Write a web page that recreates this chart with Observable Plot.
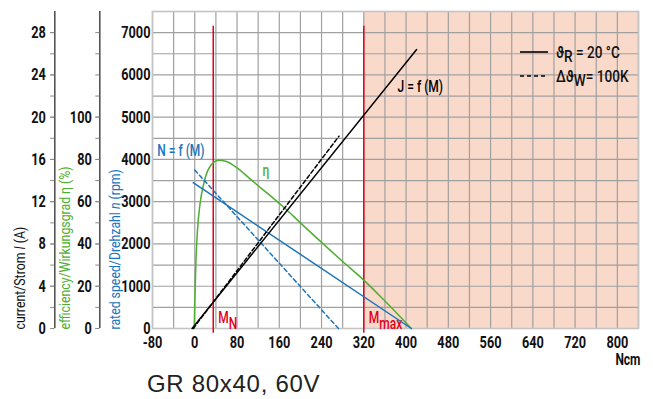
<!DOCTYPE html>
<html><head><meta charset="utf-8">
<script src="https://cdn.jsdelivr.net/npm/d3@7"></script>
<script src="https://cdn.jsdelivr.net/npm/@observablehq/plot@0.6"></script>
<style>
body{margin:0;background:#fff;}
#wrap{position:relative;width:653px;height:399px;overflow:hidden;}
#title{position:absolute;left:147px;top:372px;font:24px "Liberation Sans",Arial,sans-serif;line-height:24px;letter-spacing:0.7px;color:#222;white-space:nowrap;}
</style></head><body>
<div id="wrap"><div id="title">GR 80x40, 60V</div></div>
<script>
// ---- data ----
const torqueTicks = [-80, 0, 80, 160, 240, 320, 400, 480, 560, 640, 720, 800];
const speedTicks = [0, 1000, 2000, 3000, 4000, 5000, 6000, 7000];
const currentTicks = [0, 4, 8, 12, 16, 20, 24, 28];
const efficiencyTicks = [0, 20, 40, 60, 80, 100];

// speed n = f(M) (rpm)
const speedTorque = [-3, 410];
const speedRpm = [3450, 0];
const speedHotTorque = [0, 272];
const speedHotRpm = [3750, 0];

// current J = f(M) (A)
const currentTorque = [-5, 420];
const currentAmp = [0, 26.4];
const currentHotTorque = [-3, 273];
const currentHotAmp = [0, 18.2];

// efficiency eta = f(M) (%)
const effTorque = [-1, 0, 2, 5, 10, 17, 28, 45, 60, 80, 107, 130, 154, 170, 200, 242, 280, 320, 360, 410];
const effPct =    [0, 12, 30, 46, 59, 68.5, 76.3, 79.6, 79, 76, 70.3, 65.5, 60.5, 57, 50, 40.3, 31.7, 22.9, 13, 0];

// rated / max torque markers
const markerTorque = [35, 320];
const markerNames = ["M_{N}", "M_{max}"];
const overloadStart = 320;
const torqueMax = 840;
const speedMax = 7500;

// annotation anchors (data units)
const annotations = [
  {x: -71, y: 4210, text: "N = f (M)", key: "blue"},
  {x: 128, y: 3720, text: "η", key: "green"},
  {x: 384, y: 5720, text: "J = f (M)", key: "black"}
];

// axis conversions: 4 A and 20 % per 1000 rpm
const rpmPerAmp = 250;
const rpmPerPct = 50;

// ---- styles ----
const COL = {blue: "#1b75bc", green: "#4fae32", red: "#e3001b", black: "#000", shade: "#f9d9c9", grid: "#a0a0a0"};
const FONT = 'Roboto,"DejaVu Sans Condensed",sans-serif';

const zipXY = (xs, ys, f = 1) => xs.map((x, i) => ({x, y: ys[i] * f}));
const speedData = zipXY(speedTorque, speedRpm);
const speedHotData = zipXY(speedHotTorque, speedHotRpm);
const currentData = zipXY(currentTorque, currentAmp, rpmPerAmp);
const currentHotData = zipXY(currentHotTorque, currentHotAmp, rpmPerAmp);
const effData = zipXY(effTorque, effPct, rpmPerPct);
const markers = markerTorque.map((x, i) => ({x, name: markerNames[i]}));

const plot = Plot.plot({
  width: 653, height: 399,
  marginLeft: 152, marginRight: 15, marginTop: 11, marginBottom: 71,
  x: {domain: [-80, torqueMax], label: null},
  y: {domain: [0, speedMax], label: null},
  style: {fontFamily: FONT, fontSize: "17px", fontWeight: "bold", color: "#111", background: "transparent", overflow: "visible"},
  marks: [
    Plot.rect([overloadStart], {x1: d => d, x2: () => torqueMax, y1: () => 0, y2: () => speedMax, fill: COL.shade}),
    Plot.gridX(d3.range(-80, torqueMax + 1, 40), {stroke: COL.grid, strokeOpacity: 1, strokeWidth: 1.2}),
    Plot.gridY(d3.range(0, speedMax + 1, 500), {stroke: COL.grid, strokeOpacity: 1, strokeWidth: 1.2}),
    Plot.frame({stroke: "#c4c4c4", strokeWidth: 1.6}),

    // bottom axis
    Plot.axisX(torqueTicks, {tickSize: 0, tickPadding: 7, tickFormat: d => String(d)}),
    Plot.text(["Ncm"], {frameAnchor: "bottom-right", dx: 2, dy: 31, textAnchor: "end", lineAnchor: "middle", fontSize: 16}),

    // speed axis
    Plot.axisY(speedTicks, {tickSize: 0, tickPadding: 2, tickFormat: d => String(d)}),

    // efficiency axis
    Plot.ruleX([-80], {dx: -52.7, stroke: "#555", strokeWidth: 1.6}),
    Plot.axisY(d3.range(0, 7001, 500), {anchor: "left", dx: -52.7, tickSize: 4, tickFormat: () => "", stroke: "#888"}),
    Plot.axisY(efficiencyTicks.map(v => v * rpmPerPct), {anchor: "left", dx: -52.7, tickSize: 4, tickPadding: 4, stroke: "#888", tickFormat: d => String(d / rpmPerPct)}),

    // current axis
    Plot.ruleX([-80], {dx: -97.7, stroke: "#555", strokeWidth: 1.6}),
    Plot.axisY(d3.range(0, 7001, 500), {anchor: "left", dx: -97.7, tickSize: 4, tickFormat: () => "", stroke: "#888"}),
    Plot.axisY(currentTicks.map(v => v * rpmPerAmp), {anchor: "left", dx: -97.7, tickSize: 4, tickPadding: 5, stroke: "#888", tickFormat: d => String(d / rpmPerAmp)}),

    // axis titles
    Plot.text(["current/Strom *I* (A)"], {frameAnchor: "bottom-left", rotate: -90, textAnchor: "start", lineAnchor: "middle", dx: -132, dy: 1, fontSize: 15, fontWeight: "normal", fill: "#111", className: "ttl"}),
    Plot.text(["efficiency/Wirkungsgrad η (%)"], {frameAnchor: "bottom-left", rotate: -90, textAnchor: "start", lineAnchor: "middle", dx: -87, dy: 1, fontSize: 15, fontWeight: "normal", fill: COL.green, className: "ttl"}),
    Plot.text(["rated speed/Drehzahl *n* (rpm)"], {frameAnchor: "bottom-left", rotate: -90, textAnchor: "start", lineAnchor: "middle", dx: -37, dy: 1, fontSize: 15, fontWeight: "normal", fill: COL.blue, className: "ttl"}),

    // marker lines
    Plot.ruleX(markers, {x: "x", y1: () => -110, y2: () => 7150, stroke: COL.red, strokeWidth: 1.5}),
    Plot.text(markers, {x: "x", y: () => 262, text: "name", dx: 5, textAnchor: "start", lineAnchor: "middle", fill: COL.red, fontWeight: 500, fontSize: 16}),

    // curves
    Plot.line(effData, {x: "x", y: "y", stroke: COL.green, strokeWidth: 1.5, curve: "monotone-x"}),
    Plot.line(speedHotData, {x: "x", y: "y", stroke: COL.blue, strokeWidth: 1.5, strokeDasharray: "4,3"}),
    Plot.line(speedData, {x: "x", y: "y", stroke: COL.blue, strokeWidth: 1.5}),
    Plot.line(currentHotData, {x: "x", y: "y", stroke: "#000", strokeWidth: 1.5, strokeDasharray: "4,2.5"}),
    Plot.line(currentData, {x: "x", y: "y", stroke: "#000", strokeWidth: 1.5}),

    // annotations
    Plot.text(annotations, {x: "x", y: "y", text: "text", textAnchor: "start", lineAnchor: "middle", fill: d => COL[d.key], fontWeight: 500, fontSize: 16})
  ]
});

document.getElementById("wrap").prepend(plot);

// rich text: _{sub} and *italic*
function richify(el, shift = 0.38) {
  const s = el.textContent;
  if (!/_\{|\*/.test(s)) return;
  const parts = s.split(/(_\{[^}]*\}|\*[^*]+\*)/).filter(p => p !== "");
  el.textContent = "";
  let shifted = false;
  for (const p of parts) {
    const t = document.createElementNS("http://www.w3.org/2000/svg", "tspan");
    if (p.startsWith("_{")) {
      t.textContent = p.slice(2, -1);
      t.setAttribute("dy", shift + "em");
      shifted = true;
    } else {
      if (p.startsWith("*")) { t.textContent = p.slice(1, -1); t.setAttribute("font-style", "italic"); }
      else t.textContent = p;
      if (shifted) { t.setAttribute("dy", -shift + "em"); shifted = false; }
    }
    el.appendChild(t);
  }
}
// condense glyphs horizontally (reference uses a condensed face)
function condense(el, k) {
  const tr = el.getAttribute("transform");
  if (tr) el.setAttribute("transform", tr + ` scale(${k},1)`);
}
plot.querySelectorAll("text").forEach(el => {
  richify(el);
  const inTitle = el.closest(".ttl");
  condense(el, inTitle ? 0.82 : 0.75);
});

// legend (top right)
const svg = d3.select(plot);
const lg = svg.append("g").attr("font-family", FONT).attr("font-size", 17).attr("font-weight", 500).attr("text-anchor", "start");
const legendItems = [{label: "ϑ_{R} = 20 °C", dash: null}, {label: "Δϑ_{W}= 100K", dash: "4,3"}];
legendItems.forEach((d, i) => {
  const y = 52 + i * 24;
  lg.append("line").attr("x1", 520).attr("x2", 548).attr("y1", y).attr("y2", y)
    .attr("stroke", "#000").attr("stroke-width", 1.6).attr("stroke-dasharray", d.dash);
  const t = lg.append("text").attr("transform", `translate(556,${y})`).attr("dy", "0.35em").attr("fill", "#111").text(d.label);
  richify(t.node(), 0.25);
  condense(t.node(), 0.8);
});
</script>
</body></html>
